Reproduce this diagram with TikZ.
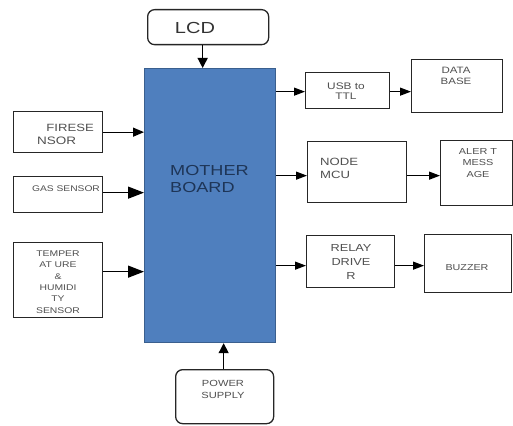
\documentclass[tikz,border=0pt]{standalone}
\usepackage{fontspec}
\setmainfont[FakeStretch=1.25]{Liberation Sans}
\usetikzlibrary{arrows.meta}
\definecolor{mbfill}{HTML}{4F7FBE}
\definecolor{mbdraw}{HTML}{3A5F8E}
\definecolor{mbtext}{HTML}{1E3557}
\definecolor{txt}{HTML}{505050}
\tikzset{
  blk/.style={draw=black!85, line width=1.3pt, inner sep=0pt, fill=white},
  rblk/.style={blk, rounded corners=7pt},
  lbl/.style={text=txt, inner sep=0pt, align=center},
  midarr/.style={line width=1.3pt, -{Triangle[length=11pt,width=9pt]}},
  bigarr/.style={line width=1.3pt, -{Triangle[length=16pt,width=12pt]}},
  smallarr/.style={line width=1.2pt, -{Triangle[length=11pt,width=8pt]}},
  vertarr/.style={line width=1.3pt, -{Triangle[length=10pt,width=10pt]}},
}
\newcommand{\bx}[5]{\node[#5, minimum width=#3pt, minimum height=#4pt, anchor=north west] (#1) at (#2) {};}
\begin{document}
\begin{tikzpicture}[x=1pt,y=-1pt]
\useasboundingbox (0,0) rectangle (513,425);
% boxes
\bx{lcd}{147,9}{121}{35}{rblk}
\node[draw=mbdraw, line width=1.2pt, fill=mbfill, minimum width=131pt, minimum height=274pt, anchor=north west, inner sep=0pt] (mb) at (144,68) {};
\bx{fire}{13,111}{89}{41}{blk}
\bx{gas}{13,176}{89}{36}{blk}
\bx{temp}{13,242}{89}{75}{blk}
\bx{pwr}{175,369}{98}{54}{rblk}
\bx{usb}{305,72}{84}{36}{blk}
\bx{db}{411,59}{91}{53}{blk}
\bx{mcu}{307,141}{99}{61}{blk}
\bx{alert}{440,140}{72}{65}{blk}
\bx{relay}{306,235}{88}{52}{blk}
\bx{buzz}{424,234}{87}{58}{blk}
% texts
\node[lbl, text=black!80, font=\fontsize{16}{16}\selectfont] (tlcd) at (195,28) {LCD};
\node[lbl, text=mbtext, anchor=west, align=left, font=\fontsize{14.5}{17}\selectfont] (tmb) at (170,179) {MOTHER\\BOARD};
\node[lbl, anchor=east, font=\fontsize{10.5}{11}\selectfont] (tfire1) at (94,128) {FIRESE};
\node[lbl, anchor=west, font=\fontsize{10.8}{11}\selectfont] (tfire2) at (37,141) {NSOR};
\node[lbl, font=\fontsize{8.2}{9}\selectfont] (tgas) at (66,189) {GAS SENSOR};
\node[lbl, font=\fontsize{8.3}{11.3}\selectfont] (ttemp) at (58,282) {TEMPER\\AT URE\\\&\\HUMIDI\\TY\\SENSOR};
\node[lbl, font=\fontsize{9.5}{10.5}\selectfont] (tusb) at (346,91) {USB to\\TTL};
\node[lbl, font=\fontsize{9.2}{11.5}\selectfont] (tdb) at (456,76) {DATA\\BASE};
\node[lbl, anchor=west, align=left, font=\fontsize{10.5}{13}\selectfont] (tmcu) at (320,168) {NODE\\MCU};
\node[lbl, font=\fontsize{8.7}{11.5}\selectfont] (talert) at (478,163) {ALER T\\MESS\\AGE};
\node[lbl, font=\fontsize{10.2}{14}\selectfont] (trelay) at (351,262) {RELAY\\DRIVE\\R};
\node[lbl, font=\fontsize{8.6}{9}\selectfont] (tbuzz) at (467,268) {BUZZER};
\node[lbl, font=\fontsize{8.9}{12}\selectfont] (tpwr) at (223,389) {POWER\\SUPPLY};
% connectors
\draw[vertarr] ([xshift=-5.5pt]lcd.south) -- ([xshift=-5.5pt]lcd.south |- mb.north);
\draw[midarr] (fire.east) -- (fire.east -| mb.west);
\draw[bigarr] ([yshift=2pt]gas.east) -- ([yshift=2pt]gas.east -| mb.west);
\draw[bigarr] ([yshift=8.5pt]temp.east) -- ([yshift=8.5pt]temp.east -| mb.west);
\draw[vertarr] ([xshift=-1pt]pwr.north) -- ([xshift=-1pt]pwr.north |- mb.south);
\draw[smallarr] ([yshift=-1pt]usb.west -| mb.east) -- ([yshift=-1pt]usb.west);
\draw[smallarr] ([yshift=-1pt]usb.east) -- ([yshift=-1pt]usb.east -| db.west);
\draw[smallarr] ([yshift=-3.5pt]mcu.west -| mb.east) -- ([yshift=-3.5pt]mcu.west);
\draw[smallarr] ([yshift=-3.5pt]mcu.east) -- ([yshift=-3.5pt]mcu.east -| alert.west);
\draw[smallarr] ([yshift=-4pt]relay.west -| mb.east) -- ([yshift=-4pt]relay.west);
\draw[smallarr] ([yshift=-4pt]relay.east) -- ([yshift=-4pt]relay.east -| buzz.west);
\end{tikzpicture}
\end{document}
